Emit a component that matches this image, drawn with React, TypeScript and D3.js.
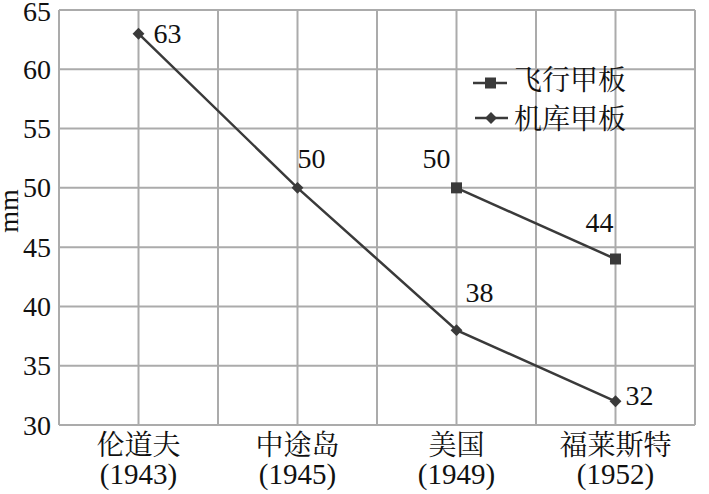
import React from "react";
import * as d3 from "d3";

const categories = ["伦道夫", "中途岛", "美国", "福莱斯特"];
const years = ["(1943)", "(1945)", "(1949)", "(1952)"];
const flightDeck: (number | null)[] = [null, null, 50, 44];
const hangarDeck: number[] = [63, 50, 38, 32];
const yTicks = [30, 35, 40, 45, 50, 55, 60, 65];
const seriesNames = ["飞行甲板", "机库甲板"];

// label placement offsets [dx, dy] relative to point (style only)
const hangarLabelOff = [[15, 9], [0, -20], [9, -28], [10, 4]];
const flightLabelOff = [[0, 0], [0, 0], [-34, -20], [-30, -27]];

const W = 709, H = 494;
const left = 59, right = 695, top = 10, bottom = 425;
const font = "Liberation Serif, Tinos, DejaVu Serif, Noto Serif CJK SC, Noto Sans CJK SC, serif";
const FS = 28;

export default function App() {
  const x = d3.scaleBand<string>().domain(categories).range([left, right]);
  const y = d3.scaleLinear().domain([30, 65]).range([bottom, top]);
  const cx = (c: string) => (x(c) ?? 0) + x.bandwidth() / 2;
  const line = d3.line<[number, number]>().x(d => d[0]).y(d => d[1]);

  const hPts: [number, number][] = hangarDeck.map((v, i) => [cx(categories[i]), y(v)]);
  const fPts: [number, number][] = flightDeck
    .map((v, i) => (v == null ? null : [cx(categories[i]), y(v)] as [number, number]))
    .filter((p): p is [number, number] => p != null);

  const vLines: number[] = [];
  categories.forEach(c => {
    vLines.push(x(c) ?? 0);
    vLines.push(cx(c));
  });
  vLines.push(right);

  const grid = "#ababab";
  const ink = "#3a3a3a";
  const diamond = d3.symbol().type(d3.symbolDiamond2).size(90)() as string;
  const ts: React.CSSProperties = { fontFamily: font };

  return (
    <svg width={W} height={H} style={{ position: "absolute", left: 0, top: 0, background: "#fff" }}>
      {yTicks.map(t => (
        <line key={"h" + t} x1={left} x2={right} y1={y(t)} y2={y(t)} stroke={grid} strokeWidth={2} />
      ))}
      {vLines.map((v, i) => (
        <line key={"v" + i} x1={v} x2={v} y1={top} y2={bottom} stroke={grid} strokeWidth={2} />
      ))}
      {yTicks.map(t => (
        <text key={"t" + t} x={51} y={Math.max(y(t) + 9.5, 21)} textAnchor="end" style={ts} fontSize={FS} fill="#111">{t}</text>
      ))}
      {categories.map((c, i) => (
        <g key={c}>
          <text x={cx(c)} y={455} textAnchor="middle" style={ts} fontSize={FS} fill="#111">{c}</text>
          <text x={cx(c)} y={484} textAnchor="middle" style={ts} fontSize={29} fill="#111">{years[i]}</text>
        </g>
      ))}
      <text transform={`translate(18,211) rotate(-90)`} textAnchor="middle" style={ts} fontSize={FS} fill="#111">mm</text>

      <path d={line(hPts) ?? ""} fill="none" stroke={ink} strokeWidth={2.5} />
      <path d={line(fPts) ?? ""} fill="none" stroke={ink} strokeWidth={2.5} />
      {hPts.map((p, i) => (
        <path key={"hd" + i} d={diamond} transform={`translate(${p[0]},${p[1]})`} fill={ink} />
      ))}
      {fPts.map((p, i) => (
        <rect key={"fs" + i} x={p[0] - 5.5} y={p[1] - 5.5} width={11} height={11} fill={ink} />
      ))}
      {hangarDeck.map((v, i) => (
        <text key={"hl" + i} x={cx(categories[i]) + hangarLabelOff[i][0]} y={y(v) + hangarLabelOff[i][1]} style={ts} fontSize={FS} fill="#111">{v}</text>
      ))}
      {flightDeck.map((v, i) => v == null ? null : (
        <text key={"fl" + i} x={cx(categories[i]) + flightLabelOff[i][0]} y={y(v) + flightLabelOff[i][1]} style={ts} fontSize={FS} fill="#111">{v}</text>
      ))}

      <g>
        <line x1={473} x2={507} y1={83} y2={83} stroke={ink} strokeWidth={2.5} />
        <rect x={485} y={77.5} width={11} height={11} fill={ink} />
        <text x={514} y={90} style={ts} fontSize={FS} fill="#111">{seriesNames[0]}</text>
        <line x1={475} x2={508} y1={118} y2={118} stroke={ink} strokeWidth={2.5} />
        <path d={diamond} transform="translate(491,118)" fill={ink} />
        <text x={514} y={129} style={ts} fontSize={FS} fill="#111">{seriesNames[1]}</text>
      </g>
    </svg>
  );
}
